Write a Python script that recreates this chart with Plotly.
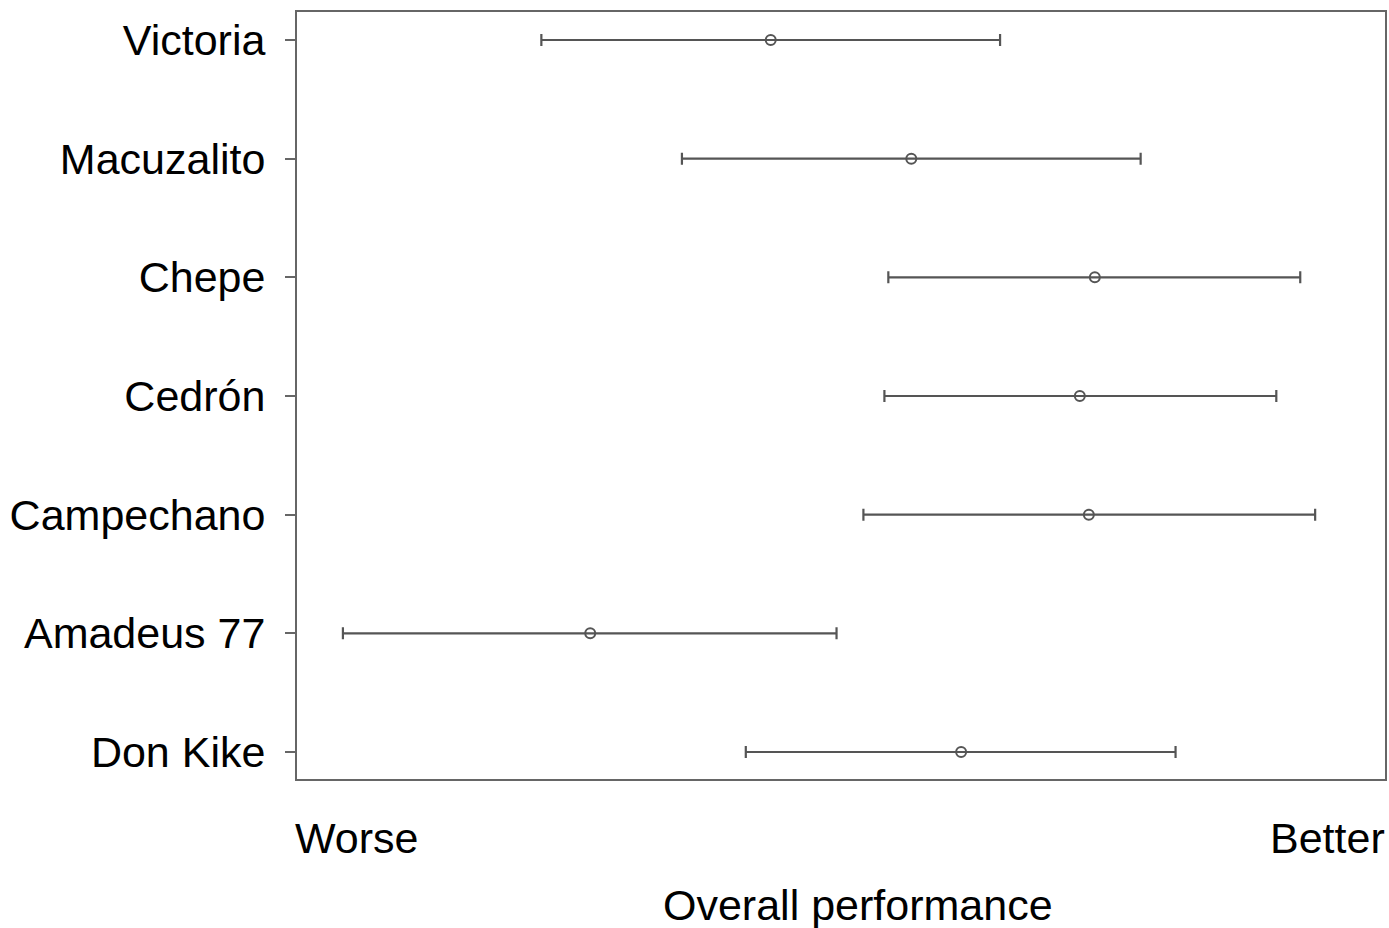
import plotly.graph_objects as go

categories = ["Don Kike", "Amadeus 77", "Campechano", "Cedrón", "Chepe", "Macuzalito", "Victoria"]
estimate = [0.6104, 0.2695, 0.7278, 0.7195, 0.7333, 0.5646, 0.4354]
lower = [0.4125, 0.0422, 0.5206, 0.5399, 0.5435, 0.3538, 0.2246]
upper = [0.8075, 0.4959, 0.9358, 0.9001, 0.9221, 0.7754, 0.6462]

err_plus = [u - e for u, e in zip(upper, estimate)]
err_minus = [e - l for e, l in zip(estimate, lower)]
ypos = list(range(len(categories)))

grey = "#555555"
fig = go.Figure()
fig.add_trace(go.Scatter(
    x=estimate, y=ypos, mode="markers",
    marker=dict(symbol="circle-open", size=10, color=grey, line=dict(width=2, color=grey)),
    error_x=dict(type="data", symmetric=False, array=err_plus, arrayminus=err_minus,
                 color=grey, thickness=2.2, width=6),
    showlegend=False,
))

font = dict(family="Liberation Sans, Arial, sans-serif", size=43, color="black")
fig.update_layout(
    width=1389, height=928,
    margin=dict(l=297, r=2, t=12, b=149),
    plot_bgcolor="white", paper_bgcolor="white",
    font=font,
    xaxis=dict(range=[0, 1], showticklabels=False, ticks="", showgrid=False, zeroline=False,
               showline=True, mirror=True, linecolor="#666666", linewidth=2),
    yaxis=dict(range=[-0.2275, 6.236], tickmode="array", tickvals=ypos, ticktext=categories,
               ticks="outside", ticklen=10, tickwidth=2, tickcolor="#666666",
               showgrid=False, zeroline=False, showline=True, mirror=True,
               linecolor="#666666", linewidth=2, ticklabelstandoff=11,
               tickfont=font),
    annotations=[
        dict(text="Worse", xref="paper", yref="paper", x=0, y=-0.0769, xanchor="left",
             yanchor="middle", showarrow=False, font=font, xshift=-4),
        dict(text="Better", xref="paper", yref="paper", x=1, y=-0.0769, xanchor="right",
             yanchor="middle", showarrow=False, font=font, xshift=2),
        dict(text="Overall performance", xref="paper", yref="paper", x=(859 - 297) / 1090,
             y=-0.1643, xanchor="center", yanchor="middle", showarrow=False, font=font),
    ],
)
fig.write_html("out.html", config={"displayModeBar": False},
               post_script="document.body.style.margin='0';document.body.style.overflow='hidden';")
